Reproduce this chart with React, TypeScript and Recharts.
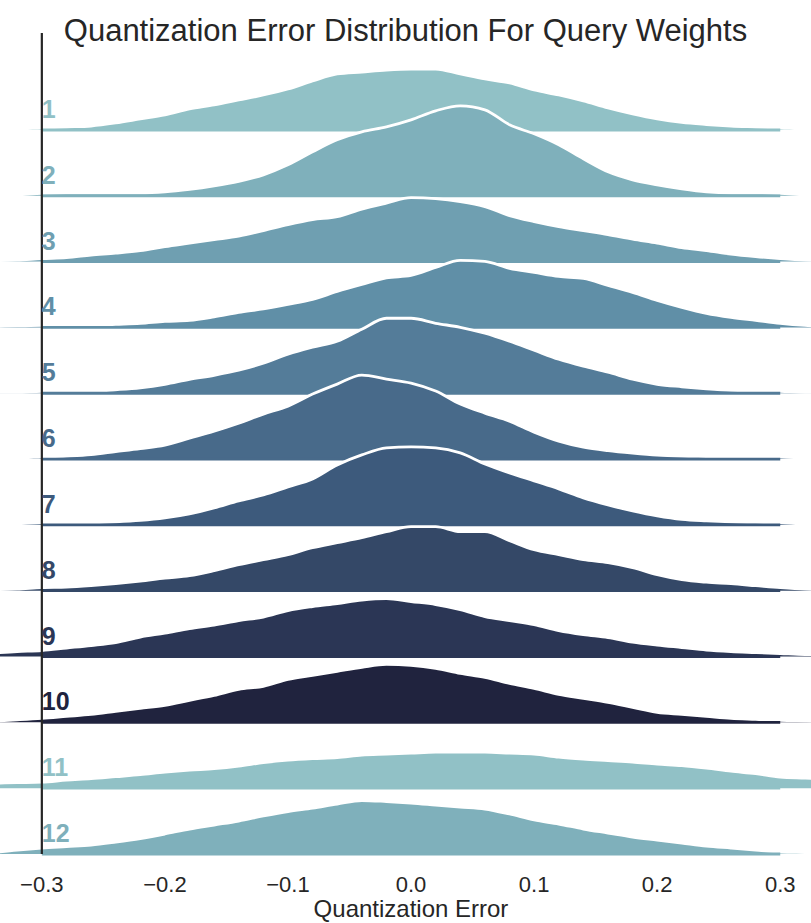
import React from 'react';
import { ComposedChart, Area, XAxis, YAxis, ReferenceLine, ReferenceDot } from 'recharts';

const xs = [-0.34, -0.32, -0.30, -0.28, -0.26, -0.24, -0.22, -0.20, -0.18, -0.16, -0.14, -0.12, -0.10, -0.08, -0.06, -0.04, -0.02, 0, 0.02, 0.04, 0.06, 0.08, 0.10, 0.12, 0.14, 0.16, 0.18, 0.20, 0.22, 0.24, 0.26, 0.28, 0.30, 0.32, 0.34];

// scaled density of each layer, read at the xs above
const row1 = [0.5, 0.8, 2, 3, 4, 7, 11, 15, 21, 25, 30, 35, 41, 49, 56, 58, 60, 61, 61, 56, 51, 47, 40, 35, 29, 22, 16, 11, 7.5, 5.5, 4, 3, 2, 0.8, 0.5];
const row2 = [0.5, 1, 2.5, 3, 3, 3, 3, 4, 6.5, 10, 14.5, 21, 31, 44, 56, 64, 69, 76, 85, 90, 86, 71, 62, 51, 37, 24, 16, 11, 7, 4, 3, 3, 2.5, 0.8, 0.5];
const row3 = [1, 1.5, 3, 4, 6.5, 8.5, 11, 15, 18.5, 22, 25.5, 31, 37, 42, 45, 52.5, 58.5, 64, 63, 60, 55, 46, 40, 35, 31, 27, 22.5, 18.5, 14, 11, 7.5, 5, 3, 1.5, 1];
const row4 = [1, 1.5, 2, 2, 2, 3, 4, 6, 7, 10.5, 15, 18.5, 23, 28, 36, 43, 49.5, 52, 60, 67, 66, 59, 55, 51, 49, 42, 35, 27, 20, 14, 10, 7, 4, 2, 1];
const row5 = [1, 1, 2, 2, 2, 3.5, 5.5, 9, 14, 18, 23, 30, 39, 46, 52, 64, 75, 75, 70, 66, 60, 52, 43, 34, 27, 21, 14, 9, 6.5, 4.5, 3, 2.5, 2, 1, 1];
const row6 = [0.5, 1, 2, 3, 4.5, 7.5, 10.5, 14, 21, 28, 36, 45, 53, 65, 75, 84, 80, 76, 68, 55, 46, 38, 27, 18, 12, 8.5, 6, 4, 3, 2.5, 2, 2, 2, 0.8, 0.5];
const row7 = [0.5, 1, 2, 2, 2, 3, 4.5, 7, 11, 17, 24, 30, 38, 46, 60, 70, 77, 78, 77, 72, 61, 52, 44, 36, 27, 20, 14, 9, 5.5, 4, 3, 2.5, 2, 0.8, 0.5];
const row8 = [1, 1.5, 3, 3.5, 5, 7, 9.5, 12.5, 15, 20, 26, 31, 36, 43, 48, 53, 59, 64, 64, 59, 59, 50, 41, 36, 31, 28, 23, 16, 11, 8.5, 7, 5, 3, 1.5, 1];
const row9 = [3.5, 5, 6, 8.5, 11, 14, 19.5, 23.5, 28, 31.5, 36, 39.5, 46, 50, 53, 56.5, 58, 55, 52, 47, 40, 36, 32, 26, 22, 19, 14.5, 11.5, 9, 6.5, 5, 4, 3, 2, 2];
const row10 = [1.2, 2.5, 4, 6, 8, 11, 14, 17, 22, 27, 33, 36, 43, 47, 51, 55, 58, 57, 54, 49, 45, 39, 34, 28, 24, 20, 15, 10, 8, 6, 4, 3, 2, 1.5, 1];
const row11 = [5, 5.5, 6, 8, 9.5, 11.5, 13.5, 16, 18, 19.5, 22, 25.5, 28, 29.5, 30.5, 33, 34, 35, 36, 36, 36, 35, 34, 31, 29, 27.5, 26, 24, 22.5, 20, 17, 14.5, 11, 10, 9];
const row12 = [1.5, 4, 6, 7.5, 9, 12, 15.5, 20, 25, 29, 33, 38, 42.5, 46, 50, 53.5, 52.5, 51, 49, 47, 45, 40, 34, 30, 25, 21, 17, 14, 11, 8, 6, 4, 2, 1.5, 1];

const rows = [row1, row2, row3, row4, row5, row6, row7, row8, row9, row10, row11, row12];
const rowLabels = ['1', '2', '3', '4', '5', '6', '7', '8', '9', '10', '11', '12'];
const palette = ['#91c1c6', '#7fb0bb', '#6f9fb1', '#608fa7', '#547c99', '#486a8a', '#3d5a7c', '#344867', '#2b3655', '#20233e'];
const xTicks = [-0.3, -0.2, -0.1, 0, 0.1, 0.2, 0.3];

const ROW_STEP = 65.82;
const FACET_HEIGHT = 97;
const BAND = 1.4;
const X_MIN = -0.334;
const X_MAX = 0.325;
const X_LO = -0.3;
const X_HI = 0.3;
const Y_MIN = -16;
const Y_MAX = 824;
const FONT = '"Liberation Sans", Arial, Helvetica, sans-serif';
const TEXT = '#262626';

const baseOf = (k: number) => (rows.length - 1 - k) * ROW_STEP;

const data = xs.map((x, i) => {
  const pt: Record<string, number | null> = { x };
  rows.forEach((r, k) => {
    const base = baseOf(k);
    pt['d' + k] = base + r[i];
    pt['b' + k] = x >= X_LO - 1e-9 && x <= X_HI + 1e-9 ? base + BAND : null;
  });
  return pt;
});

const fmt = (v: number) => (v < 0 ? '\u2212' : '') + Math.abs(v).toFixed(1);

export default function App() {
  const layers: React.ReactNode[] = [];
  rows.forEach((_, k) => {
    const color = palette[k % palette.length];
    const base = baseOf(k);
    layers.push(
      <Area
        key={'a' + k}
        type="monotone"
        dataKey={'d' + k}
        baseValue={base}
        fill={color}
        fillOpacity={1}
        stroke="#ffffff"
        strokeWidth={2.8}
        isAnimationActive={false}
        dot={false}
        activeDot={false}
      />
    );
    layers.push(
      <Area
        key={'b' + k}
        type="linear"
        dataKey={'b' + k}
        baseValue={base - BAND}
        fill={color}
        fillOpacity={1}
        stroke="none"
        isAnimationActive={false}
        dot={false}
        activeDot={false}
      />
    );
  });

  return (
    <div style={{ position: 'absolute', left: 0, top: 0, width: 811, height: 923, background: '#fff', fontFamily: FONT }}>
      <ComposedChart width={811} height={923} data={data} margin={{ top: 30, right: 0, bottom: 0, left: 0 }}>
        <XAxis
          dataKey="x"
          type="number"
          domain={[X_MIN, X_MAX]}
          allowDataOverflow
          ticks={xTicks}
          interval={0}
          tickFormatter={fmt}
          axisLine={false}
          tickLine={false}
          tickSize={0}
          tickMargin={6}
          height={53}
          tick={{ fontSize: 22, fill: TEXT, fontFamily: FONT }}
        />
        <YAxis hide type="number" domain={[Y_MIN, Y_MAX]} allowDataOverflow />
        {layers}
        <ReferenceLine
          segment={[{ x: X_LO, y: baseOf(rows.length - 1) }, { x: X_LO, y: baseOf(0) + FACET_HEIGHT }]}
          stroke="#262626"
          strokeWidth={2.2}
        />
        {rows.map((_, k) => {
          const color = palette[k % palette.length];
          return (
            <ReferenceDot
              key={'l' + k}
              x={X_LO}
              y={baseOf(k)}
              r={1}
              shape={(p: any) => (
                <text
                  x={p.cx}
                  y={p.cy - 12}
                  fill={color}
                  fontSize={25}
                  fontWeight="bold"
                  fontFamily={FONT}
                >
                  {rowLabels[k]}
                </text>
              )}
            />
          );
        })}
      </ComposedChart>
      <div style={{ position: 'absolute', left: 0, top: 15, width: 811, textAlign: 'center', fontSize: 31, lineHeight: '31px', color: TEXT, whiteSpace: 'nowrap' }}>
        Quantization Error Distribution For Query Weights
      </div>
      <div style={{ position: 'absolute', left: 211, top: 897, width: 400, textAlign: 'center', fontSize: 24, lineHeight: '24px', color: TEXT, whiteSpace: 'nowrap' }}>
        Quantization Error
      </div>
    </div>
  );
}
